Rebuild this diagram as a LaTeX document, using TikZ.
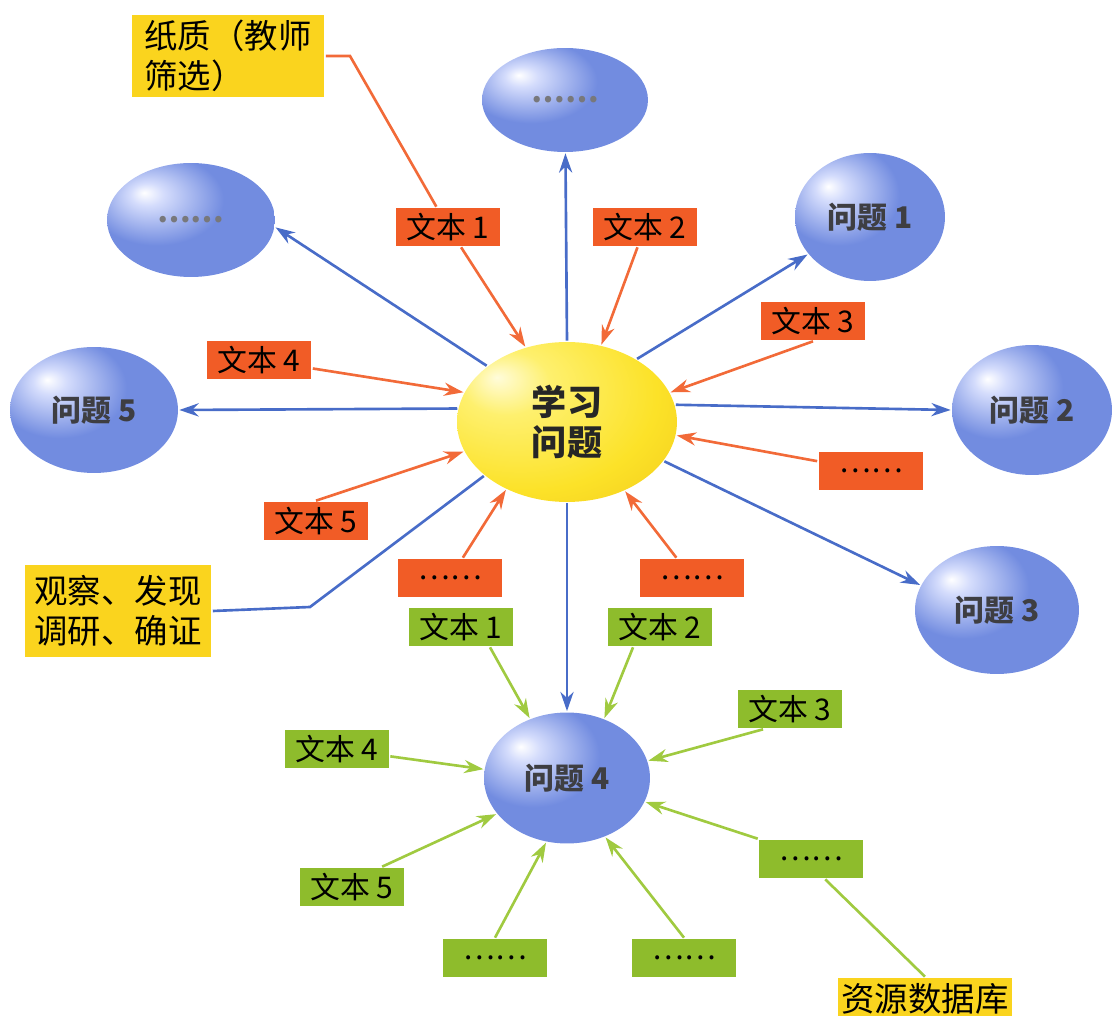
\documentclass[tikz,border=0pt]{standalone}
\usepackage{fontspec}
\setmainfont{Noto Sans CJK SC}
\usepackage{tikz}
\usetikzlibrary{arrows.meta,shapes.geometric}

\definecolor{qblue}{RGB}{114,140,224}
\definecolor{qlite}{RGB}{212,220,252}
\definecolor{qdeep}{RGB}{102,126,212}
\definecolor{ylite}{RGB}{255,252,218}
\definecolor{ymid}{RGB}{254,240,110}
\definecolor{ymain}{RGB}{252,226,40}
\definecolor{ydeep}{RGB}{236,188,22}
\definecolor{obox}{RGB}{241,92,38}
\definecolor{olinec}{RGB}{242,106,56}
\definecolor{gbox}{RGB}{142,188,44}
\definecolor{glinec}{RGB}{160,202,64}
\definecolor{blinec}{RGB}{72,108,200}
\definecolor{ybox}{RGB}{250,212,30}
\definecolor{qtext}{RGB}{62,62,66}

\pgfdeclareradialshading{qshade}{\pgfpoint{-14bp}{12bp}}{color(0bp)=(white); color(5bp)=(qlite); color(20bp)=(qblue); color(58bp)=(qblue); color(75bp)=(qdeep)}
\pgfdeclareradialshading{yshade}{\pgfpoint{-16bp}{14bp}}{color(0bp)=(ylite); color(10bp)=(ymid); color(30bp)=(ymain); color(55bp)=(ydeep); color(75bp)=(ydeep)}

\begin{document}
\begin{tikzpicture}[x=0.02cm,y=-0.02cm,>={Stealth[length=11pt,width=7.5pt]},line width=1.5pt]
       \tikzstyle{qball}=[ellipse,shading=qshade,inner sep=0pt,text=qtext,font=\fontsize{17}{20}\selectfont\bfseries]
       \tikzstyle{yball}=[ellipse,shading=yshade,inner sep=0pt,align=center,text=black!85,font=\fontsize{20}{23}\selectfont\bfseries]
       \tikzstyle{redtag}=[rectangle,fill=obox,minimum width=2.1cm,minimum height=0.76cm,inner sep=0pt,font=\fontsize{17}{20}\selectfont]
       \tikzstyle{greentag}=[rectangle,fill=gbox,minimum width=2.08cm,minimum height=0.76cm,inner sep=0pt,font=\fontsize{17}{20}\selectfont]
       \tikzstyle{notetag}=[rectangle,fill=ybox,align=left,inner sep=0pt,font=\fontsize{19}{22.5}\selectfont]

       \useasboundingbox (0,0) rectangle (1117,1016);

       % centre and questions
       \node[yball,minimum width=4.4cm,minimum height=3.2cm]   (ctr) at (567,422) {学习\\问题};
       \node[qball,minimum width=3.32cm,minimum height=2.08cm] (q_0) at (565,100) {\textcolor{qtext!70}{……}};
       \node[qball,minimum width=3.36cm,minimum height=2.28cm] (q_6) at (191,220) {\textcolor{qtext!70}{……}};
       \node[qball,minimum width=3.0cm,minimum height=2.56cm]  (q_1) at (870,217) {问题 1};
       \node[qball,minimum width=3.2cm,minimum height=2.6cm]   (q_2) at (1032,410) {问题 2};
       \node[qball,minimum width=3.28cm,minimum height=2.56cm] (q_3) at (997,610) {问题 3};
       \node[qball,minimum width=3.32cm,minimum height=2.62cm] (q_4) at (567,778) {问题 4};
       \node[qball,minimum width=3.36cm,minimum height=2.52cm] (q_5) at (94,410) {问题 5};

       % texts for the centre
       \node[redtag] (o_1) at (448,227) {文本 1};
       \node[redtag] (o_2) at (645,227) {文本 2};
       \node[redtag] (o_3) at (813,321) {文本 3};
       \node[redtag] (o_4) at (259,360) {文本 4};
       \node[redtag] (o_5) at (316,521) {文本 5};
       \node[redtag] (o_6) at (871,471) {……};
       \node[redtag] (o_7) at (450,578) {……};
       \node[redtag] (o_8) at (692,578) {……};

       % texts for question 4
       \node[greentag] (g_1) at (461,627) {文本 1};
       \node[greentag] (g_2) at (660,627) {文本 2};
       \node[greentag] (g_3) at (790,709) {文本 3};
       \node[greentag] (g_4) at (337,749) {文本 4};
       \node[greentag] (g_5) at (352,887) {文本 5};
       \node[greentag] (g_6) at (811,859) {……};
       \node[greentag] (g_7) at (495,958) {……};
       \node[greentag] (g_8) at (684,958) {……};

       % notes
       \node[notetag,minimum width=3.86cm,minimum height=1.66cm] (paper) at (228,56) {纸质（教师\\筛选）};
       \node[notetag,minimum width=3.74cm,minimum height=1.86cm] (obs)   at (118,611) {观察、发现\\调研、确证};
       \node[notetag,minimum width=3.48cm,minimum height=0.84cm] (res)   at (925,999) {资源数据库};
       \coordinate (kink_1) at (350,56);
       \coordinate (kink_2) at (310,607);

       \path[->,blinec]
       (ctr.90)  edge (q_0)
       (ctr.145) edge (q_6.355)
       (ctr.42)  edge (q_1.211)
       (ctr.173) edge (q_5.east)
       (ctr.9)   edge (q_2.west)
       (ctr.338) edge (q_3.162)
       (ctr.270) edge (q_4.north);
       \draw[blinec] (obs.east) -- (kink_2) -- (ctr.213);

       \draw[olinec] (paper.east) -- (kink_1) -- (o_1);
       \path[->,olinec]
       (o_1)       edge (ctr.119)
       (o_2)       edge (ctr.66)
       (o_3.south) edge (ctr.16)
       (o_4)       edge (ctr.164)
       (o_5.north) edge (ctr.196)
       (o_6)       edge (ctr.353)
       (o_7)       edge (ctr.228)
       (o_8)       edge (ctr.310);

       \draw[glinec] (res.north) -- (g_6.-55);
       \path[->,glinec]
       (g_1.-35)        edge (q_4.122)
       (g_2.217)        edge (q_4.58)
       (g_3.217)        edge (q_4.12)
       (g_4)            edge (q_4.174)
       (g_5.34)         edge (q_4.207)
       (g_6.north west) edge (q_4.343)
       (g_7.north)      edge (q_4.252)
       (g_8.north)      edge (q_4.303);
     \end{tikzpicture}
\end{document}
